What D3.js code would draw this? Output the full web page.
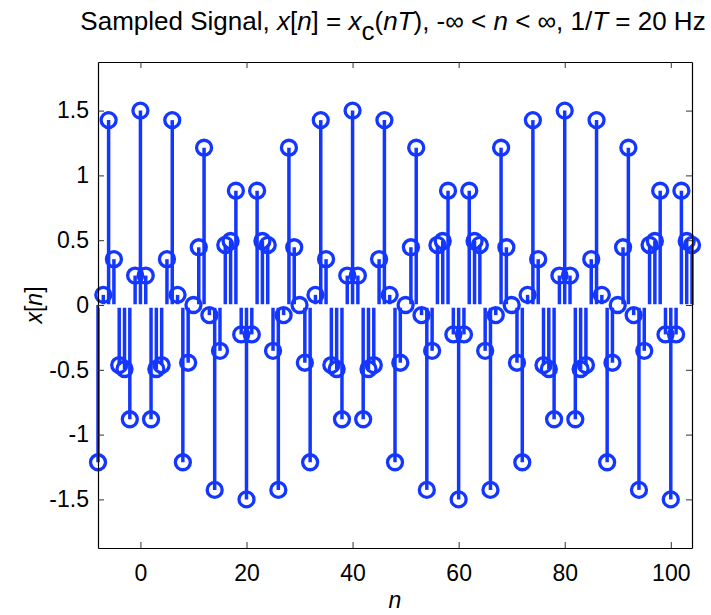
<!DOCTYPE html>
<html>
<head>
<meta charset="utf-8">
<script src="https://cdn.jsdelivr.net/npm/d3@7"></script>
<style>
  html, body { margin: 0; padding: 0; background: #ffffff; }
  svg { display: block; }
  text { font-family: "Liberation Sans", Arial, Helvetica, sans-serif; fill: #000; }
</style>
</head>
<body>
<svg id="chart" width="711" height="615"></svg>
<script>
// ---- data ----
const nStart = -8;
const nEnd = 104;
const sampleValues = [
  -1.2135, 0.0782, 1.4266, 0.3536, -0.4635, -0.4938, -0.8817, 0.2270,          // n = -8 .. -1
  1.5000, 0.2270, -0.8817, -0.4938, -0.4635, 0.3536, 1.4266, 0.0782, -1.2135, -0.4455, // 0 .. 9
  0.0000, 0.4455, 1.2135, -0.0782, -1.4266, -0.3536, 0.4635, 0.4938, 0.8817, -0.2270,  // 10 .. 19
  -1.5000, -0.2270, 0.8817, 0.4938, 0.4635, -0.3536, -1.4266, -0.0782, 1.2135, 0.4455, // 20 .. 29
  0.0000, -0.4455, -1.2135, 0.0782, 1.4266, 0.3536, -0.4635, -0.4938, -0.8817, 0.2270, // 30 .. 39
  1.5000, 0.2270, -0.8817, -0.4938, -0.4635, 0.3536, 1.4266, 0.0782, -1.2135, -0.4455, // 40 .. 49
  0.0000, 0.4455, 1.2135, -0.0782, -1.4266, -0.3536, 0.4635, 0.4938, 0.8817, -0.2270,  // 50 .. 59
  -1.5000, -0.2270, 0.8817, 0.4938, 0.4635, -0.3536, -1.4266, -0.0782, 1.2135, 0.4455, // 60 .. 69
  0.0000, -0.4455, -1.2135, 0.0782, 1.4266, 0.3536, -0.4635, -0.4938, -0.8817, 0.2270, // 70 .. 79
  1.5000, 0.2270, -0.8817, -0.4938, -0.4635, 0.3536, 1.4266, 0.0782, -1.2135, -0.4455, // 80 .. 89
  0.0000, 0.4455, 1.2135, -0.0782, -1.4266, -0.3536, 0.4635, 0.4938, 0.8817, -0.2270,  // 90 .. 99
  -1.5000, -0.2270, 0.8817, 0.4938, 0.4635                                             // 100 .. 104
];
const xTicks = [0, 20, 40, 60, 80, 100];
const yTicks = [-1.5, -1, -0.5, 0, 0.5, 1, 1.5];
const yTickLabels = ["-1.5", "-1", "-0.5", "0", "0.5", "1", "1.5"];
const xDomain = [-8, 104];
const yDomain = [-1.875, 1.875];

const data = sampleValues.map((v, i) => ({ n: nStart + i, v: v }));

// ---- layout ----
const svg = d3.select("#chart");
const margin = { left: 98, right: 711 - 692, top: 62, bottom: 615 - 548 };
const W = 711, H = 615;
const x = d3.scaleLinear().domain(xDomain).range([margin.left, W - margin.right]);
const y = d3.scaleLinear().domain(yDomain).range([H - margin.bottom, margin.top]);

const blue = "rgb(20,55,255)";

// stems
svg.append("g").selectAll("line").data(data).join("line")
  .attr("x1", d => x(d.n)).attr("x2", d => x(d.n))
  .attr("y1", y(0)).attr("y2", d => y(d.v))
  .attr("stroke", blue).attr("stroke-width", 3.5);

// baseline (rendered white in the reference)
svg.append("line")
  .attr("x1", x(xDomain[0])).attr("x2", x(xDomain[1]))
  .attr("y1", y(0) + 1).attr("y2", y(0) + 1)
  .attr("stroke", "#ffffff").attr("stroke-width", 3.5);

// markers
svg.append("g").selectAll("circle").data(data).join("circle")
  .attr("cx", d => x(d.n)).attr("cy", d => y(d.v))
  .attr("r", 7.5)
  .attr("fill", "none").attr("stroke", blue).attr("stroke-width", 3.3);

// axes
const tickLen = 6;
const fontSize = 23;
const axB = d3.axisBottom(x).tickValues(xTicks).tickFormat(d3.format("d")).tickSizeInner(-tickLen).tickSizeOuter(0).tickPadding(17);
const axT = d3.axisTop(x).tickValues(xTicks).tickFormat("").tickSizeInner(-tickLen).tickSizeOuter(0);
const axL = d3.axisLeft(y).tickValues(yTicks).tickFormat((d, i) => yTickLabels[i]).tickSizeInner(-tickLen).tickSizeOuter(0).tickPadding(9);
const axR = d3.axisRight(y).tickValues(yTicks).tickFormat("").tickSizeInner(-tickLen).tickSizeOuter(0);

function styleAxis(g) {
  g.select(".domain").attr("stroke", "#000").attr("stroke-width", 1.2);
  g.selectAll(".tick line").attr("stroke", "#333").attr("stroke-width", 1);
  g.selectAll(".tick text").attr("font-size", fontSize).attr("font-family", "Liberation Sans, Arial, sans-serif").attr("fill", "#000");
}
svg.append("g").attr("transform", `translate(0,${y(yDomain[0])})`).call(axB).call(styleAxis);
svg.append("g").attr("transform", `translate(0,${y(yDomain[1])})`).call(axT).call(styleAxis);
svg.append("g").attr("transform", `translate(${x(xDomain[0])},0)`).call(axL).call(styleAxis);
svg.append("g").attr("transform", `translate(${x(xDomain[1])},0)`).call(axR).call(styleAxis);

// title
const cx = (x(xDomain[0]) + x(xDomain[1])) / 2;
const title = svg.append("text").attr("x", 393).attr("y", 30).attr("text-anchor", "middle").attr("font-size", 26);
const parts = [
  ["Sampled Signal, ", false], ["x", true], ["[", false], ["n", true], ["] = ", false],
  ["x", true]
];
parts.forEach(p => title.append("tspan").text(p[0]).attr("font-style", p[1] ? "italic" : "normal"));
title.append("tspan").text("c").attr("dy", 10);
const rest = [["(", false], ["n", true], ["T", true], ["), -\u221E < ", false], ["n", true], [" < \u221E, 1/", false], ["T", true], [" = 20 Hz", false]];
rest.forEach((p, i) => {
  const t = title.append("tspan").text(p[0]).attr("font-style", p[1] ? "italic" : "normal");
  if (i === 0) t.attr("dy", -10);
});

// axis labels
const xl = svg.append("text").attr("x", cx).attr("y", 608).attr("text-anchor", "middle").attr("font-size", 23);
xl.append("tspan").text("n").attr("font-style", "italic");

const yl = svg.append("text").attr("transform", `translate(42,${y(0)}) rotate(-90)`).attr("text-anchor", "middle").attr("font-size", 23);
yl.append("tspan").text("x").attr("font-style", "italic");
yl.append("tspan").text("[");
yl.append("tspan").text("n").attr("font-style", "italic");
yl.append("tspan").text("]");
</script>
</body>
</html>
